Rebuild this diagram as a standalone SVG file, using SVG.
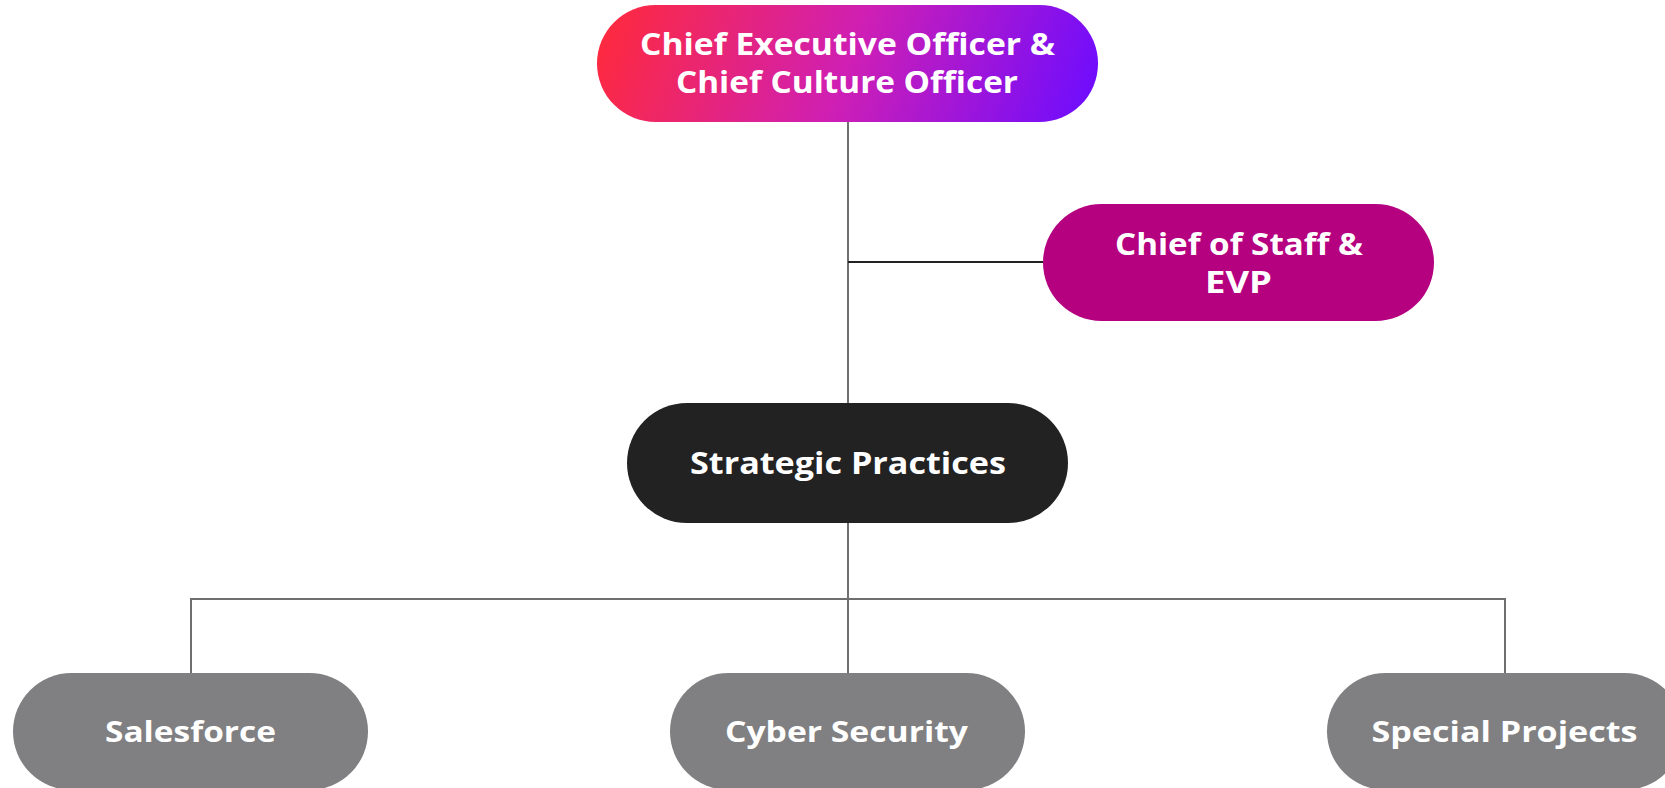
<svg xmlns="http://www.w3.org/2000/svg" width="1665" height="788" viewBox="0 0 1665 788">
<defs>
<linearGradient id="ceoGrad" x1="615" y1="-20" x2="1080" y2="150" gradientUnits="userSpaceOnUse">
<stop offset="0" stop-color="#ff2a3c"/>
<stop offset="0.5" stop-color="#cf1fb4"/>
<stop offset="1" stop-color="#6d0cff"/>
</linearGradient>
<style>
.lbl{font-family:"Open Sans","Liberation Sans",sans-serif;font-weight:700;fill:#ffffff;text-anchor:middle}
.big{font-size:31px}
.small{font-size:29px}
.ln{fill:none;stroke:#6f6e71;stroke-width:2}
.dk{fill:none;stroke:#222222;stroke-width:2}
</style>
</defs>
<rect width="1665" height="788" fill="#ffffff"/>
<g id="connectors">
<line class="ln" x1="848" y1="122" x2="848" y2="403"/>
<line class="dk" x1="848" y1="262" x2="1043" y2="262"/>
<line class="ln" x1="848" y1="523" x2="848" y2="673"/>
<polyline class="ln" points="191,673 191,599 1505,599 1505,673"/>
</g>
<g id="ceo">
<rect x="597" y="5" width="501" height="117" rx="58.5" fill="url(#ceoGrad)"/>
<text class="lbl big" x="847.5" y="55" textLength="415" lengthAdjust="spacingAndGlyphs">Chief Executive Officer &amp;</text>
<text class="lbl big" x="847" y="93" textLength="342" lengthAdjust="spacingAndGlyphs">Chief Culture Officer</text>
</g>
<g id="chief-of-staff">
<rect x="1043" y="204" width="391" height="117" rx="58.5" fill="#b5007f"/>
<text class="lbl big" x="1239" y="255" textLength="248" lengthAdjust="spacingAndGlyphs">Chief of Staff &amp;</text>
<text class="lbl big" x="1238.5" y="293" textLength="67" lengthAdjust="spacingAndGlyphs">EVP</text>
</g>
<g id="strategic-practices">
<rect x="627" y="403" width="441" height="120" rx="60" fill="#222222"/>
<text class="lbl big" x="848" y="474" textLength="316" lengthAdjust="spacingAndGlyphs">Strategic Practices</text>
</g>
<g id="salesforce">
<rect x="13" y="673" width="355" height="117" rx="58.5" fill="#808082"/>
<text class="lbl small" x="190.5" y="742" textLength="171" lengthAdjust="spacingAndGlyphs">Salesforce</text>
</g>
<g id="cyber-security">
<rect x="670" y="673" width="355" height="117" rx="58.5" fill="#808082"/>
<text class="lbl small" x="846.5" y="742" textLength="243" lengthAdjust="spacingAndGlyphs">Cyber Security</text>
</g>
<g id="special-projects">
<rect x="1327" y="673" width="356" height="117" rx="58.5" fill="#808082"/>
<text class="lbl small" x="1504.5" y="742" textLength="266" lengthAdjust="spacingAndGlyphs">Special Projects</text>
</g>
</svg>
